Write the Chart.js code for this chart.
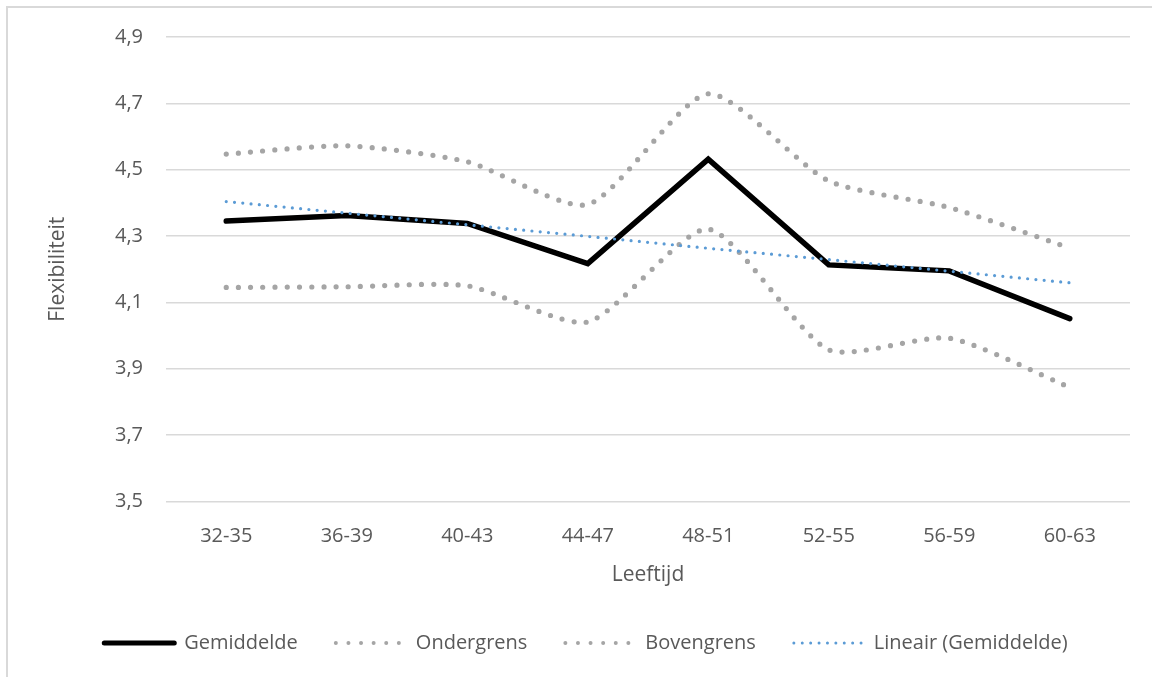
<!DOCTYPE html>
<html>
<head>
<meta charset="utf-8">
<script src="https://cdn.jsdelivr.net/npm/chart.js@4.4.1/dist/chart.umd.min.js"></script>
<style>
  html, body { margin: 0; padding: 0; background: #ffffff; overflow: hidden; }
  #frame { position: absolute; left: 6px; top: 6px; width: 1300px; height: 800px;
           border-left: 2px solid #d9d9d9; border-top: 2px solid #d9d9d9; box-sizing: border-box; }
  #wrap { position: absolute; left: 0; top: 0; width: 1152px; height: 677px; }
</style>
</head>
<body>
<div id="frame"></div>
<div id="wrap"><canvas id="c" width="1152" height="677"></canvas></div>
<script>
const categories = ['32-35', '36-39', '40-43', '44-47', '48-51', '52-55', '56-59', '60-63'];
const gemiddelde = [4.345, 4.362, 4.338, 4.217, 4.532, 4.213, 4.195, 4.051];
const ondergrens = [4.145, 4.147, 4.150, 4.041, 4.321, 3.957, 3.992, 3.844];
const bovengrens = [4.547, 4.572, 4.524, 4.395, 4.729, 4.466, 4.386, 4.264];
const lineairTrend = [4.404, 4.369, 4.334, 4.299, 4.263, 4.229, 4.194, 4.159];
const yTickValues = [3.5, 3.7, 3.9, 4.1, 4.3, 4.5, 4.7, 4.9];

const TXT = '#595959';
Chart.defaults.font.family = "'Open Sans', 'Noto Sans', sans-serif";
Chart.defaults.color = TXT;

const legendStyle = {
  0: { lineWidth: 5, lineDash: [], lineCap: 'round' },
  1: { lineWidth: 4, lineDash: [0, 12.6], lineCap: 'round' },
  2: { lineWidth: 4, lineDash: [0, 12.6], lineCap: 'round' },
  3: { lineWidth: 3, lineDash: [0, 8.4], lineCap: 'round' }
};

new Chart(document.getElementById('c'), {
  type: 'line',
  data: {
    labels: categories,
    datasets: [
      { label: 'Gemiddelde', data: gemiddelde, borderColor: '#000000', backgroundColor: '#000000',
        borderWidth: 5.5, tension: 0, pointRadius: 0, borderJoinStyle: 'miter', borderCapStyle: 'round', order: 3 },
      { label: 'Ondergrens', data: ondergrens, borderColor: '#a5a5a5', backgroundColor: '#a5a5a5',
        borderWidth: 5.2, borderDash: [0, 12.2], borderCapStyle: 'round', tension: 0.22, pointRadius: 0, order: 2 },
      { label: 'Bovengrens', data: bovengrens, borderColor: '#a5a5a5', backgroundColor: '#a5a5a5',
        borderWidth: 5.2, borderDash: [0, 12.2], borderCapStyle: 'round', tension: 0.22, pointRadius: 0, order: 1 },
      { label: 'Lineair (Gemiddelde)', data: lineairTrend, borderColor: '#5b9bd5', backgroundColor: '#5b9bd5',
        borderWidth: 3.2, borderDash: [0, 8.3], borderCapStyle: 'round', tension: 0, pointRadius: 0, order: 0 }
    ]
  },
  options: {
    responsive: false,
    animation: false,
    events: [],
    layout: { padding: { left: 42, right: 22, top: 37, bottom: 14 } },
    plugins: {
      tooltip: { enabled: false },
      legend: {
        position: 'bottom',
        labels: {
          usePointStyle: true,
          pointStyle: 'line',
          pointStyleWidth: 70,
          padding: 38,
          font: { size: 20 },
          color: TXT,
          sort: (a, b) => a.datasetIndex - b.datasetIndex,
          generateLabels: (chart) => {
            const items = Chart.defaults.plugins.legend.labels.generateLabels(chart);
            items.forEach(it => {
              const s = legendStyle[it.datasetIndex];
              it.lineWidth = s.lineWidth; it.lineDash = s.lineDash; it.lineCap = s.lineCap;
              it.pointStyle = 'line';
            });
            return items;
          }
        }
      }
    },
    scales: {
      x: {
        offset: true,
        grid: { display: false, drawTicks: false, offset: true },
        border: { display: false },
        ticks: { padding: 23, font: { size: 20 }, color: TXT, maxRotation: 0 },
        title: { display: true, text: 'Leeftijd', font: { size: 21 }, color: TXT, padding: { top: 0, bottom: 7 } },
        afterFit: (s) => { s.height = 93.6; }
      },
      y: {
        min: 3.5, max: 4.9,
        grid: { color: '#d9d9d9', lineWidth: 1.5, drawTicks: false },
        border: { display: false },
        afterBuildTicks: (s) => { s.ticks = yTickValues.map(v => ({ value: v })); },
        ticks: { padding: 23, font: { size: 20 }, color: TXT,
                 callback: (v) => Number(v).toFixed(1).replace('.', ',') },
        title: { display: true, text: 'Flexibiliteit', font: { size: 21 }, color: TXT, padding: { top: 3, bottom: 0 } },
        afterFit: (s) => { s.width = 124; }
      }
    }
  }
});
</script>
</body>
</html>
